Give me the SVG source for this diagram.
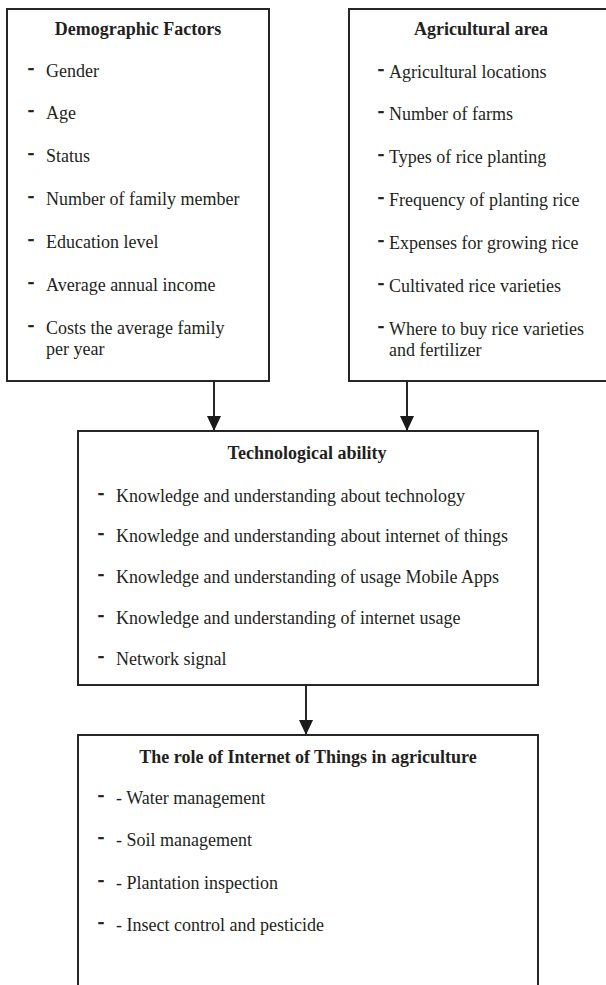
<svg xmlns="http://www.w3.org/2000/svg" width="606" height="985" viewBox="0 0 606 985">
<style>
.box{fill:#fff;stroke:#262626;stroke-width:2}
text{font-family:"Liberation Serif","Times New Roman",serif;font-size:18px;fill:#231f20}
.t{font-weight:bold;text-anchor:middle}
.d{font-weight:bold;stroke:#231f20;stroke-width:0.7}
.c{stroke:#262626;stroke-width:2;fill:none}
</style>
<defs>
<marker id="ah" markerWidth="15" markerHeight="14" refX="15" refY="7" orient="auto" markerUnits="userSpaceOnUse">
<path d="M0,0 L15,7 L0,14 Z" fill="#1a1a1a"/>
</marker>
</defs>
<rect width="606" height="985" fill="#fff"/>
<g id="demographic">
<rect class="box" x="7" y="9" width="262" height="372"/>
<text class="t" x="138" y="35">Demographic Factors</text>
<text class="d" x="28" y="74">-</text><text x="46" y="77">Gender</text>
<text class="d" x="28" y="116">-</text><text x="46" y="119">Age</text>
<text class="d" x="28" y="159">-</text><text x="46" y="162">Status</text>
<text class="d" x="28" y="202">-</text><text x="46" y="205">Number of family member</text>
<text class="d" x="28" y="245">-</text><text x="46" y="248">Education level</text>
<text class="d" x="28" y="288">-</text><text x="46" y="291">Average annual income</text>
<text class="d" x="28" y="331">-</text><text x="46" y="334">Costs the average family</text>
<text x="46" y="355">per year</text>
</g>
<g id="agricultural">
<rect class="box" x="349" y="9" width="280" height="372"/>
<text class="t" x="481" y="35">Agricultural area</text>
<text class="d" x="378" y="75">-</text><text x="389" y="78">Agricultural locations</text>
<text class="d" x="378" y="117">-</text><text x="389" y="120">Number of farms</text>
<text class="d" x="378" y="160">-</text><text x="389" y="163">Types of rice planting</text>
<text class="d" x="378" y="203">-</text><text x="389" y="206">Frequency of planting rice</text>
<text class="d" x="378" y="246">-</text><text x="389" y="249">Expenses for growing rice</text>
<text class="d" x="378" y="289">-</text><text x="389" y="292">Cultivated rice varieties</text>
<text class="d" x="378" y="332">-</text><text x="389" y="335">Where to buy rice varieties</text>
<text x="389" y="356">and fertilizer</text>
</g>
<g id="technological">
<rect class="box" x="78" y="431" width="460" height="254"/>
<text class="t" x="307" y="459">Technological ability</text>
<text class="d" x="98" y="499">-</text><text x="116" y="502">Knowledge and understanding about technology</text>
<text class="d" x="98" y="539">-</text><text x="116" y="542">Knowledge and understanding about internet of things</text>
<text class="d" x="98" y="580">-</text><text x="116" y="583">Knowledge and understanding of usage Mobile Apps</text>
<text class="d" x="98" y="621">-</text><text x="116" y="624">Knowledge and understanding of internet usage</text>
<text class="d" x="98" y="662">-</text><text x="116" y="665">Network signal</text>
</g>
<g id="iot-role">
<rect class="box" x="78" y="735" width="460" height="280"/>
<text class="t" x="308" y="763">The role of Internet of Things in agriculture</text>
<text class="d" x="98" y="801">-</text><text x="116" y="804">- Water management</text>
<text class="d" x="98" y="843">-</text><text x="116" y="846">- Soil management</text>
<text class="d" x="98" y="886">-</text><text x="116" y="889">- Plantation inspection</text>
<text class="d" x="98" y="928">-</text><text x="116" y="931">- Insect control and pesticide</text>
</g>
<g id="connectors">
<line class="c" x1="214" y1="381" x2="214" y2="431" marker-end="url(#ah)"/>
<line class="c" x1="407" y1="381" x2="407" y2="431" marker-end="url(#ah)"/>
<line class="c" x1="306" y1="685" x2="306" y2="735" marker-end="url(#ah)"/>
</g>
</svg>
